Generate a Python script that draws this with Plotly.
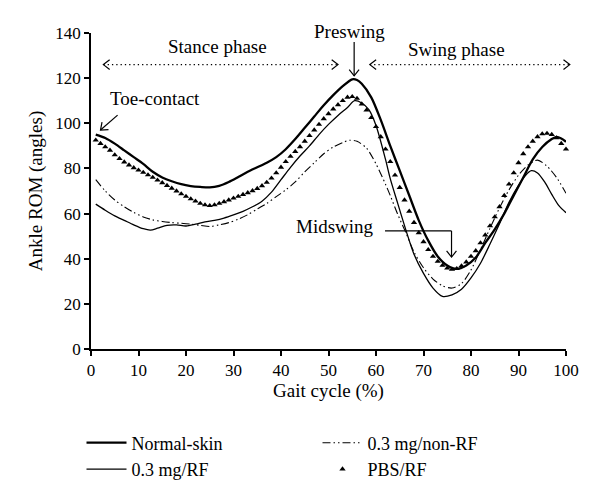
import math
import plotly.graph_objects as go

# ---------------- data ----------------
gait_normal = [1, 3, 5, 7, 9, 11, 13, 15, 17, 19, 21, 23, 25, 27, 29, 31, 33, 35, 37, 39,
               41, 43, 45, 47, 49, 51, 53, 55, 56, 57, 59, 61, 63, 65, 67, 69, 71, 73, 75,
               77, 79, 81, 83, 85, 87, 89, 91, 93, 95, 97, 98, 99, 100]
rom_normal = [95, 93.5, 91, 88, 85, 82, 78.5, 76, 74.3, 73, 72.2, 71.8, 71.6, 72.3, 74, 76.2,
              78.5, 80.5, 82.5, 85, 88.5, 93, 98, 103, 108, 112.5, 116.5, 119.5, 119.2, 117.5,
              111.5, 101.5, 90, 79, 68, 57, 48, 41, 37, 35.5, 37, 40.5, 47, 53, 60, 68, 76,
              84, 89.5, 93, 94, 93.3, 91.8]

gait_rf = [1, 3, 5, 7, 9, 11, 12.5, 14, 16, 18, 20, 22, 24, 26, 28, 30, 32, 34, 36, 38, 40,
           42, 44, 46, 48, 50, 52, 54, 55.5, 57, 58.5, 60, 62, 63, 64.5, 66.4, 68, 70, 72, 74,
           76, 78, 80, 82, 84, 86, 88, 90, 91.5, 92.7, 94, 95.5, 97, 98.5, 100]
rom_rf = [64.2, 61.5, 59, 57, 55, 53.3, 52.7, 53.5, 54.8, 55, 54.5, 55.3, 56.3, 57, 58, 59.4,
          61, 63, 65.5, 69.5, 75, 80.5, 85.5, 90, 95, 99.5, 103.5, 107, 110, 109, 106, 99, 84,
          75.5, 65, 52, 42, 33.5, 27, 23.3, 24, 26.5, 31.5, 38, 46.5, 55.5, 65, 72.5, 77, 79,
          78, 74, 68.5, 63.5, 60.4]

gait_nonrf = [1, 3, 5, 7, 9, 11, 13, 15, 17, 19, 21, 23, 25, 27, 29, 31, 33, 35, 37, 39, 41,
              43, 45, 47, 49, 51, 53, 54.5, 56, 58, 60, 62, 63, 64.5, 66.4, 68, 70, 72, 74, 76,
              78, 80, 82, 84, 86, 88, 90, 92, 94, 96, 98, 100]
rom_nonrf = [75, 70, 66, 63, 60.5, 58.5, 57.2, 56.5, 56, 55.7, 55.3, 54.8, 54.3, 55, 56, 57.5,
             59.5, 62, 64.5, 67.5, 70.5, 74, 78.5, 82.5, 86.5, 89.5, 91.5, 92.5, 92, 89, 82,
             73, 68, 60, 51, 43, 36, 31, 28, 27, 29, 35, 44, 53.5, 62.5, 70.5, 77, 81.5, 83.7,
             81, 76, 69]

gait_pbs = list(range(1, 101))
rom_pbs = [92.5, 91, 89.5, 88, 86, 84.3, 82.8, 81.5, 80.3, 79.2,
           78.2, 77.1, 76, 74.8, 73.6, 72.4, 71.2, 70, 68.7, 67.6,
           66.5, 65.5, 64.5, 63.8, 63.5, 63.8, 64.5, 65.2, 66, 66.8,
           67.6, 68.4, 69.2, 70.1, 71.1, 72.3, 73.8, 75.7, 78, 80.5,
           83, 85.3, 87.5, 89.6, 92, 94.5, 97, 99.5, 102, 104.2,
           106.3, 108.2, 110, 111.5, 111.8, 111, 108.5, 105.8, 102.5, 98.5,
           94, 88.5, 83, 77, 71.5, 66, 61, 56, 51.5, 47.5,
           44, 41, 38.8, 37, 35.8, 35.3, 35.6, 36.8, 38.5, 41,
           43.5, 47, 50.5, 54.5, 58.5, 63, 68, 73, 78, 82.5,
           86.5, 89.5, 92, 94, 95.3, 95.5, 95, 93.5, 91, 88.5]

x_ticks = [0, 10, 20, 30, 40, 50, 60, 70, 80, 90, 100]
y_ticks = [0, 20, 40, 60, 80, 100, 120, 140]

# ---------------- layout geometry ----------------
FIG_W, FIG_H = 600, 496
ML, MR, MT, MB = 91, 34, 33, 147
PW, PH = FIG_W - ML - MR, FIG_H - MT - MB
FONT = "Liberation Serif"
X_MAX, Y_MAX = 100, 140


def dpx(x, y):
    """data -> pixel"""
    return ML + x / X_MAX * PW, FIG_H - MB - y / Y_MAX * PH


def pp(px, py):
    """pixel -> paper"""
    return (px - ML) / PW, (FIG_H - MB - py) / PH


def seg(p0, p1, dash="solid", width=1.2):
    a = pp(*p0)
    b = pp(*p1)
    return dict(type="line", xref="paper", yref="paper", x0=a[0], y0=a[1], x1=b[0], y1=b[1],
                line=dict(color="black", width=width, dash=dash))


def chevron(tip, frm, size=8, ang=38):
    """open arrowhead at pixel tip, pointing away from pixel point frm"""
    dx, dy = tip[0] - frm[0], tip[1] - frm[1]
    n = math.hypot(dx, dy)
    dx, dy = dx / n, dy / n
    pts = []
    for s in (1, -1):
        a = math.radians(ang) * s
        rx = dx * math.cos(a) - dy * math.sin(a)
        ry = dx * math.sin(a) + dy * math.cos(a)
        pts.append((tip[0] - size * rx, tip[1] - size * ry))
    p1, t, p2 = pp(*pts[0]), pp(*tip), pp(*pts[1])
    path = f"M {p1[0]} {p1[1]} L {t[0]} {t[1]} L {p2[0]} {p2[1]}"
    return dict(type="path", xref="paper", yref="paper", path=path,
                line=dict(color="black", width=1.2))


fig = go.Figure()
fig.add_trace(go.Scatter(x=gait_normal, y=rom_normal, mode="lines", name="Normal-skin",
                         line=dict(color="black", width=2.3, shape="spline", smoothing=0.8)))
fig.add_trace(go.Scatter(x=gait_nonrf, y=rom_nonrf, mode="lines", name="0.3 mg/non-RF",
                         line=dict(color="black", width=1.1, shape="spline", smoothing=0.8,
                                   dash="8px,3px,1.5px,3px,1.5px,3px")))
fig.add_trace(go.Scatter(x=gait_rf, y=rom_rf, mode="lines", name="0.3 mg/RF",
                         line=dict(color="black", width=1.3, shape="spline", smoothing=0.8)))
fig.add_trace(go.Scatter(x=gait_pbs, y=rom_pbs, mode="markers", name="PBS/RF",
                         marker=dict(symbol="triangle-up", size=5.5, color="black"),
                         cliponaxis=False))

shapes = []
DOT = "1.3px,3px"
# stance phase dotted double arrow
a, b = dpx(2.6, 126), dpx(52, 126)
shapes += [seg(a, b, dash=DOT, width=1.4), chevron(a, b), chevron(b, a)]
# swing phase dotted double arrow
a, b = dpx(58.7, 126), dpx(100.8, 126)
shapes += [seg(a, b, dash=DOT, width=1.4), chevron(a, b), chevron(b, a)]
# preswing arrow
a, b = dpx(55.4, 136), dpx(55.4, 121)
shapes += [seg(a, b), chevron(b, a)]
# toe-contact arrow
a, b = dpx(5.6, 103.6), dpx(2.0, 97)
shapes += [seg(a, b), chevron(b, a)]
# midswing elbow arrow
a, c, b = dpx(61.9, 52.3), dpx(75.9, 52.3), dpx(75.9, 40.7)
shapes += [seg(a, c), seg(c, b), chevron(b, c)]

tf = dict(family=FONT, size=19, color="black")
tick_font = dict(family=FONT, size=17, color="black")
# annotation positions given in data units, placed in paper space (not hidden off-range)
annotations = [
    dict(x=26.6, y=134.1, text="Stance phase", xanchor="center"),
    dict(x=76.9, y=132.8, text="Swing phase", xanchor="center"),
    dict(x=54.5, y=140.6, text="Preswing", xanchor="center"),
    dict(x=13.5, y=110.8, text="Toe-contact", xanchor="center"),
    dict(x=60.1, y=54.4, text="Midswing", xanchor="right"),
]
for an in annotations:
    an.update(xref="paper", yref="paper", x=an["x"] / X_MAX, y=an["y"] / Y_MAX,
              yanchor="middle", showarrow=False, font=tf)

axis_common = dict(showline=True, linecolor="black", linewidth=1.6, ticks="outside",
                   ticklen=5, tickwidth=1.5, tickcolor="black", showgrid=False,
                   zeroline=False, tickfont=tick_font, title_font=tf)

fig.update_layout(
    width=FIG_W, height=FIG_H,
    margin=dict(l=ML, r=MR, t=MT, b=MB, autoexpand=False),
    paper_bgcolor="white", plot_bgcolor="white",
    font=tf,
    xaxis=dict(range=[0, X_MAX], tickvals=x_ticks, title=dict(text="Gait cycle (%)", standoff=4),
               **axis_common),
    yaxis=dict(range=[0, Y_MAX], tickvals=y_ticks, title=dict(text="Ankle ROM (angles)", standoff=8),
               **axis_common),
    legend=dict(orientation="h", x=-0.02, y=-0.239, xanchor="left", yanchor="top",
                entrywidth=181, entrywidthmode="pixels",
                font=dict(family=FONT, size=18, color="black"), bgcolor="rgba(0,0,0,0)",
                itemwidth=40, tracegroupgap=0),
    shapes=shapes,
    annotations=annotations,
    showlegend=True,
)

fig.write_html("out.html", config={"displayModeBar": False},
               post_script="document.body.style.margin='0';")
